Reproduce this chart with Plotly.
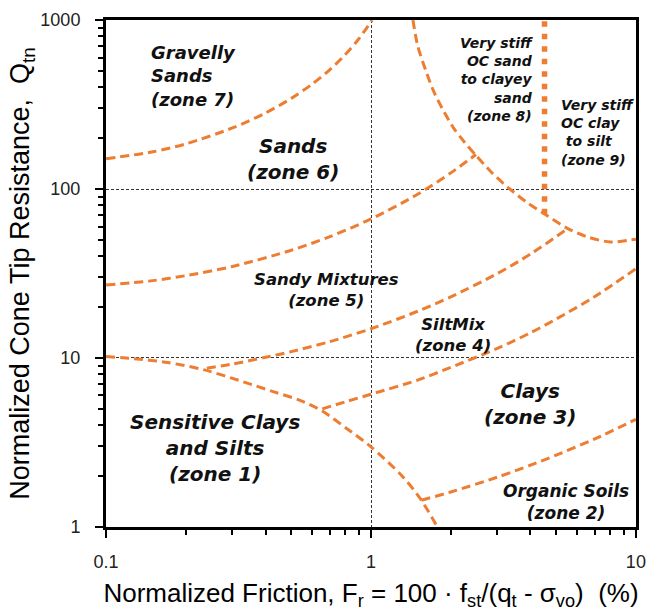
import math
import plotly.graph_objects as go

# Soil behaviour type chart: normalized friction ratio Fr (%) vs normalized cone resistance Qtn

# Zone boundaries (Fr, Qtn)
fr_z7_z6 = [0.1, 0.15, 0.2, 0.3, 0.4, 0.5, 0.6, 0.7, 0.8, 0.9, 1.01]
qt_z7_z6 = [151, 166, 185, 230, 282, 344, 418, 509, 625, 775, 1000]

fr_z6_z5 = [0.1, 0.15, 0.2, 0.3, 0.5, 0.7, 1.0, 1.5, 2.0, 2.49]
qt_z6_z5 = [27.0, 28.7, 30.7, 34.8, 43.4, 52.3, 66.5, 93.1, 124.6, 160]

fr_z5_z4 = [0.24, 0.3, 0.4, 0.5, 0.7, 1.0, 1.5, 2.0, 3.0, 4.0, 5.5]
qt_z5_z4 = [8.7, 9.2, 10.1, 10.9, 12.5, 14.9, 18.9, 23.0, 31.6, 41.2, 58.0]

fr_z4_z3 = [0.655, 0.8, 1.0, 1.5, 2.0, 3.0, 4.0, 5.0, 7.0, 10.0]
qt_z4_z3 = [5.0, 5.5, 6.1, 7.4, 8.8, 11.4, 14.1, 17.0, 23.1, 33.7]

fr_z3_z2 = [1.55, 2.0, 3.0, 4.0, 5.0, 7.0, 10.0]
qt_z3_z2 = [1.44, 1.61, 1.97, 2.32, 2.66, 3.32, 4.33]

fr_z1 = [0.1, 0.127, 0.171, 0.235, 0.332, 0.43, 0.542, 0.655, 0.814, 1.0, 1.3, 1.54, 1.78]
qt_z1 = [10.2, 9.9, 9.4, 8.5, 7.2, 6.3, 5.6, 4.85, 3.8, 2.98, 2.03, 1.46, 1.0]

fr_z8 = [1.44, 1.5, 1.61, 1.73, 1.89, 2.06, 2.25, 2.49, 2.83, 3.27, 3.89, 4.63, 5.51, 6.55, 8.0, 10.0]
qt_z8 = [1000, 706, 502, 374, 285, 227, 190, 158, 127, 103, 83, 69.5, 58.5, 52.1, 48.6, 50.5]

fr_z8_z9 = [4.52, 4.52]
qt_z8_z9 = [71, 1000]

x_ticks = [0.1, 1, 10]
x_tick_text = ["0.1", "1", "10"]
y_ticks = [1, 10, 100, 1000]
y_tick_text = ["1", "10", "100", "1000"]
x_minor = [0.2, 0.3, 0.4, 0.5, 0.6, 0.7, 0.8, 0.9, 2, 3, 4, 5, 6, 7, 8, 9]
y_minor = [2, 3, 4, 5, 6, 7, 8, 9, 20, 30, 40, 50, 60, 70, 80, 90,
           200, 300, 400, 500, 600, 700, 800, 900]

ORANGE = "#ED7D31"
LABEL_FONT = "DejaVu Sans"
AXIS_FONT = "Liberation Sans, Arial, sans-serif"

fig = go.Figure()

dashed = [
    (fr_z7_z6, qt_z7_z6), (fr_z6_z5, qt_z6_z5), (fr_z5_z4, qt_z5_z4),
    (fr_z4_z3, qt_z4_z3), (fr_z3_z2, qt_z3_z2), (fr_z1, qt_z1), (fr_z8, qt_z8),
]
for fx, qy in dashed:
    fig.add_trace(go.Scatter(
        x=fx, y=qy, mode="lines",
        line=dict(color=ORANGE, width=3, dash="9px,5px", shape="spline", smoothing=0.8),
        hoverinfo="skip",
    ))

# dotted divider between zones 8 and 9
fig.add_trace(go.Scatter(
    x=fr_z8_z9, y=qt_z8_z9, mode="lines",
    line=dict(color=ORANGE, width=5.5, dash="5.5px,7px"),
    hoverinfo="skip",
))

# zone labels: (text, Fr, Qtn, anchor, size)
labels = [
    ("Gravelly<br>Sands<br>(zone 7)", 0.145, 467, "left", 18),
    ("Sands<br>(zone 6)", 0.508, 151, "center", 20),
    ("Sandy Mixtures<br>(zone 5)", 0.68, 25.1, "center", 16.5),
    ("SiltMix<br>(zone 4)", 2.04, 13.6, "center", 16.5),
    ("Clays<br>(zone 3)", 4.0, 5.33, "center", 20),
    ("Sensitive Clays<br>and Silts<br>(zone 1)", 0.257, 2.93, "center", 20),
    ("Organic Soils<br>(zone 2)", 5.45, 1.40, "center", 17),
    ("Very stiff<br>OC sand<br>to clayey<br>sand<br>(zone 8)", 4.165, 445, "right", 14),
    ("Very stiff<br>OC clay<br>\u00a0to silt<br>(zone 9)", 5.14, 217, "left", 14),
]
for text, fx, qy, anchor, size in labels:
    fig.add_annotation(
        x=math.log10(fx), y=math.log10(qy), xref="x", yref="y",
        text=text, showarrow=False, xanchor=anchor, yanchor="middle", align=anchor,
        font=dict(family=LABEL_FONT, size=size, color="#111", weight="bold", style="italic"),
    )

axis_common = dict(
    type="log", showline=True, linewidth=3, linecolor="black", mirror=True,
    ticks="outside", tickwidth=2, tickcolor="black",
    showgrid=True, gridcolor="#333", gridwidth=1, griddash="3px,2px",
    zeroline=False,
    tickfont=dict(family=AXIS_FONT, size=18, color="#222"),
)

fig.update_xaxes(
    **axis_common, range=[-1.0004, 1.0004], tickvals=x_ticks, ticktext=x_tick_text, ticklen=8,
    ticklabelstandoff=8, ticklabeloverflow="allow",
    minor=dict(tickvals=x_minor, ticks="outside", ticklen=5, tickwidth=2,
               tickcolor="black", showgrid=False),
    title=dict(
        text="Normalized Friction, F<sub>r</sub> = 100 · f<sub>st</sub>/(q<sub>t</sub> - σ<sub>vo</sub>)  (%)",
        font=dict(family=AXIS_FONT, size=26, color="black"), standoff=18,
    ),
)
fig.update_yaxes(
    **axis_common, range=[-0.0004, 3.0004], tickvals=y_ticks, ticktext=y_tick_text, ticklen=8,
    ticklabelstandoff=11,
    minor=dict(tickvals=y_minor, ticks="outside", ticklen=5, tickwidth=2,
               tickcolor="black", showgrid=False),
    title=dict(
        text="Normalized Cone Tip Resistance,  Q<sub>tn</sub>",
        font=dict(family=AXIS_FONT, size=27, color="black"), standoff=3,
    ),
)

fig.update_layout(
    width=646, height=611,
    margin=dict(l=106, r=10, t=20, b=84, autoexpand=False),
    plot_bgcolor="white", paper_bgcolor="white",
    showlegend=False,
)

fig.write_html("out.html")
